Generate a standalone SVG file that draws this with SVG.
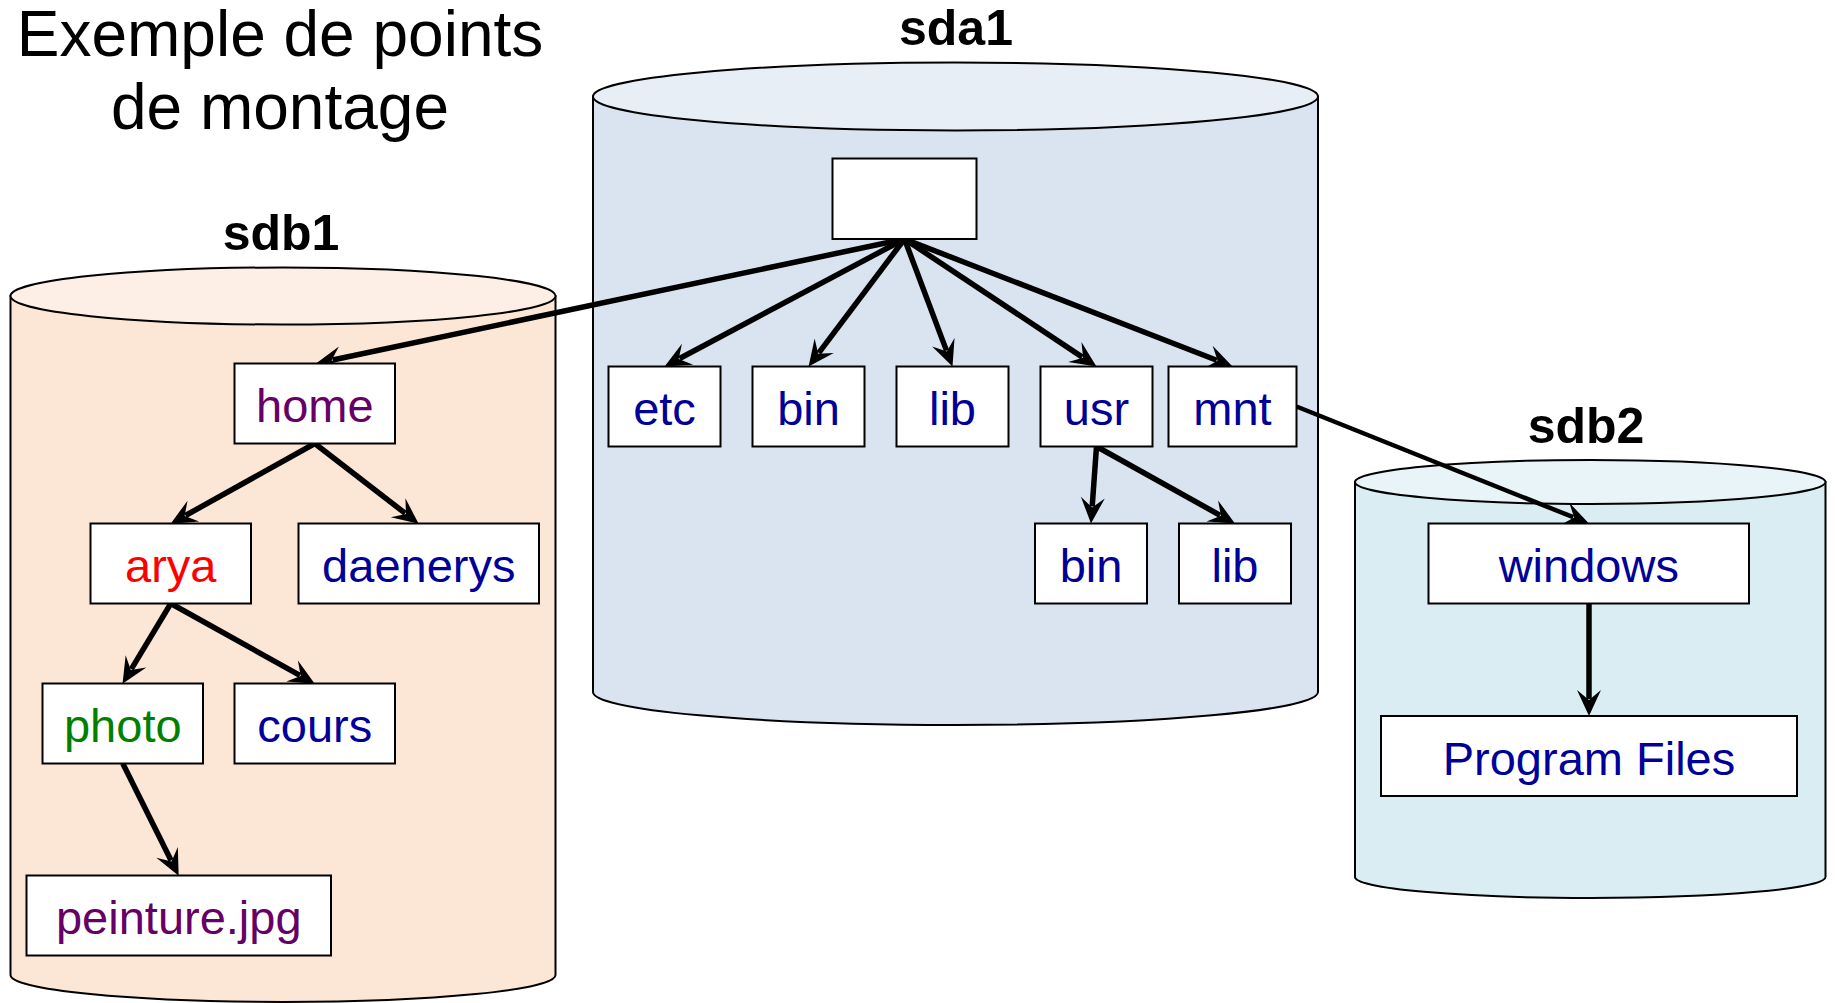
<svg xmlns="http://www.w3.org/2000/svg" width="1835" height="1003" viewBox="0 0 1835 1003">
<style>
.title{font-family:"Liberation Sans",Arial,sans-serif;font-size:64px;fill:#000;text-anchor:middle}
.lbl{font-family:"Liberation Sans",Arial,sans-serif;font-size:50px;font-weight:bold;fill:#000;text-anchor:middle}
.box{fill:#fff;stroke:#000;stroke-width:2}
.t{font-family:"Liberation Sans",Arial,sans-serif;font-size:47px;text-anchor:middle}
.navy{fill:#000099}
.purple{fill:#660066}
.red{fill:#ff0000}
.green{fill:#008000}
.cyl{stroke:#000;stroke-width:2}
.edge{stroke:#000;stroke-width:5.5;fill:none;marker-end:url(#arr)}
</style>
<defs>
<marker id="arr" markerUnits="userSpaceOnUse" markerWidth="28" markerHeight="28" viewBox="0 -14 28 28" refX="9" refY="0" orient="auto" overflow="visible">
<path d="M26,0 L0,-12 L10,0 L0,12 Z" fill="#000"/>
</marker>
</defs>
<rect width="1835" height="1003" fill="#fff"/>

<g id="title">
<text class="title" x="280" y="56">Exemple de points</text>
<text class="title" x="280" y="129">de montage</text>
</g>

<g id="sdb1">
<path class="cyl" d="M10.5,296 L10.5,975 A272.5,27 0 0 0 555.5,975 L555.5,296 Z" fill="#FCE7D6"/>
<ellipse class="cyl" cx="283" cy="296" rx="272.5" ry="28.5" fill="#FDEFE5"/>
<text class="lbl" x="281" y="250">sdb1</text>
</g>

<g id="sda1">
<path class="cyl" d="M593,96.5 L593,692 A362.5,33 0 0 0 1318,692 L1318,96.5 Z" fill="#DAE4F0"/>
<ellipse class="cyl" cx="955.5" cy="96.5" rx="362.5" ry="34" fill="#E7EEF6"/>
<text class="lbl" x="956" y="45">sda1</text>
</g>

<g id="sdb2">
<path class="cyl" d="M1355,482 L1355,877 A235.25,21 0 0 0 1825.5,877 L1825.5,482 Z" fill="#DAEDF3"/>
<ellipse class="cyl" cx="1590.25" cy="482" rx="235.25" ry="22" fill="#E8F4F8"/>
<text class="lbl" x="1586" y="443">sdb2</text>
</g>

<g id="connectors">
<line class="edge" x1="904.5" y1="239" x2="332.6" y2="360"/>
<line class="edge" x1="904.5" y1="239" x2="679.6" y2="358.5"/>
<line class="edge" x1="904.5" y1="239" x2="818.8" y2="352.9"/>
<line class="edge" x1="904.5" y1="239" x2="946.5" y2="350.6"/>
<line class="edge" x1="904.5" y1="239" x2="1082.3" y2="357.1"/>
<line class="edge" x1="904.5" y1="239" x2="1216.7" y2="360.3"/>
<line class="edge" x1="1096.5" y1="446.5" x2="1092.2" y2="506.5"/>
<line class="edge" x1="1096.5" y1="446.5" x2="1220.1" y2="515.3"/>
<line class="edge" x1="1296.5" y1="406.5" x2="1573.2" y2="517.2" style="stroke-width:4.5"/>
<line class="edge" x1="1589" y1="603.5" x2="1589" y2="699"/>
<line class="edge" x1="314.8" y1="443.5" x2="185.5" y2="515.5"/>
<line class="edge" x1="314.8" y1="443.5" x2="405.2" y2="513.3"/>
<line class="edge" x1="170.8" y1="603.5" x2="131.3" y2="669.1"/>
<line class="edge" x1="170.8" y1="603.5" x2="299.9" y2="675.4"/>
<line class="edge" x1="122.8" y1="763.5" x2="171.1" y2="860.5"/>
</g>

<g id="root"><rect class="box" x="832.5" y="158.5" width="144" height="80.5"/></g>
<g id="etc"><rect class="box" x="608.5" y="366.5" width="112" height="80"/><text class="t navy" x="664.5" y="425">etc</text></g>
<g id="bin"><rect class="box" x="752.5" y="366.5" width="112" height="80"/><text class="t navy" x="808.5" y="425">bin</text></g>
<g id="lib"><rect class="box" x="896.5" y="366.5" width="112" height="80"/><text class="t navy" x="952.5" y="425">lib</text></g>
<g id="usr"><rect class="box" x="1040.5" y="366.5" width="112" height="80"/><text class="t navy" x="1096.5" y="425">usr</text></g>
<g id="mnt"><rect class="box" x="1168.5" y="366.5" width="128" height="80"/><text class="t navy" x="1232.5" y="425">mnt</text></g>
<g id="usr-bin"><rect class="box" x="1035" y="523.5" width="112" height="80"/><text class="t navy" x="1091" y="582">bin</text></g>
<g id="usr-lib"><rect class="box" x="1179" y="523.5" width="112" height="80"/><text class="t navy" x="1235" y="582">lib</text></g>
<g id="windows"><rect class="box" x="1428.5" y="523.5" width="320.5" height="80"/><text class="t navy" x="1588.8" y="582">windows</text></g>
<g id="program-files"><rect class="box" x="1381" y="716" width="416" height="80"/><text class="t navy" x="1589" y="774.5">Program Files</text></g>
<g id="home"><rect class="box" x="234.5" y="363.5" width="160.5" height="80"/><text class="t purple" x="314.8" y="422">home</text></g>
<g id="arya"><rect class="box" x="90.5" y="523.5" width="160.5" height="80"/><text class="t red" x="170.8" y="582">arya</text></g>
<g id="daenerys"><rect class="box" x="298.5" y="523.5" width="240.5" height="80"/><text class="t navy" x="418.8" y="582">daenerys</text></g>
<g id="photo"><rect class="box" x="42.5" y="683.5" width="160.5" height="80"/><text class="t green" x="122.8" y="742">photo</text></g>
<g id="cours"><rect class="box" x="234.5" y="683.5" width="160.5" height="80"/><text class="t navy" x="314.8" y="742">cours</text></g>
<g id="peinture"><rect class="box" x="26.5" y="875.5" width="304.5" height="80"/><text class="t purple" x="178.8" y="934">peinture.jpg</text></g>
</svg>
